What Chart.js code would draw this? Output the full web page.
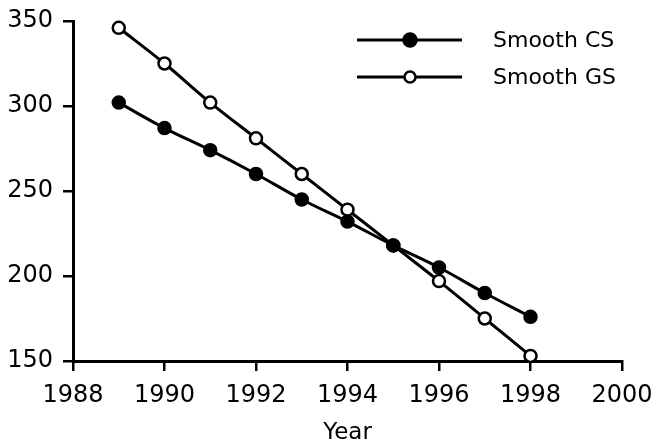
<!DOCTYPE html>
<html><head><meta charset="utf-8">
<script src="https://cdn.jsdelivr.net/npm/chart.js@4/dist/chart.umd.min.js"></script>
<style>html,body{margin:0;padding:0;background:#fff}#wrap{width:657px;height:445px}</style>
</head><body><div id="wrap"><canvas id="c" width="657" height="445"></canvas></div>
<script>
const years = [1989,1990,1991,1992,1993,1994,1995,1996,1997,1998];
const smoothCS = [302,287,274,260,245,232,218,205,190,176];
const smoothGS = [346,325,302,281,260,239,218,197,175,153];
const xTicks = [1988,1990,1992,1994,1996,1998,2000];
const yTicks = [150,200,250,300,350];
const seriesNames = ['Smooth CS','Smooth GS'];
const FONT = 'DejaVu Sans';

const legendPlugin = {
  id:'customLegend',
  afterDraw(chart){
    const ctx = chart.ctx;
    const rows = [{y:40, fill:'#000'},{y:77, fill:'#fff'}];
    ctx.save();
    rows.forEach((r,i)=>{
      ctx.strokeStyle='#000'; ctx.lineWidth=3;
      ctx.beginPath(); ctx.moveTo(357,r.y); ctx.lineTo(462,r.y); ctx.stroke();
      ctx.beginPath(); ctx.arc(410,r.y,i===0?6.5:5.5,0,Math.PI*2);
      ctx.fillStyle=r.fill; ctx.fill(); ctx.lineWidth=2.5; ctx.stroke();
      ctx.fillStyle='#000'; ctx.font='22px "'+FONT+'"'; ctx.textBaseline='middle'; ctx.textAlign='left';
      ctx.fillText(seriesNames[i],493,r.y+1);
    });
    ctx.restore();
  }
};

new Chart(document.getElementById('c'),{
  type:'line',
  data:{datasets:[
    {label:seriesNames[0],data:years.map((x,i)=>({x,y:smoothCS[i]})),borderColor:'#000',borderWidth:3,
     pointRadius:6.5,pointBackgroundColor:'#000',pointBorderColor:'#000',pointBorderWidth:1.5,tension:0.4,clip:false},
    {label:seriesNames[1],data:years.map((x,i)=>({x,y:smoothGS[i]})),borderColor:'#000',borderWidth:3,
     pointRadius:6,pointBackgroundColor:'#fff',pointBorderColor:'#000',pointBorderWidth:2.5,tension:0.4,clip:false}
  ]},
  options:{
    responsive:false,animation:false,
    layout:{padding:{left:0,right:35,top:21,bottom:0}},
    plugins:{legend:{display:false},tooltip:{enabled:false}},
    scales:{
      x:{type:'linear',min:1988,max:2000,
        afterBuildTicks(s){s.ticks=xTicks.map(v=>({value:v}));},
        afterFit(s){s.height=445-361;s.paddingLeft=0;s.paddingRight=0;},
        ticks:{color:'#000',font:{family:FONT,size:24},padding:10,maxRotation:0,callback:v=>String(v)},
        grid:{drawOnChartArea:false,drawTicks:true,tickLength:10,color:'#000',lineWidth:2.5},
        border:{display:true,color:'#000',width:3},
        title:{display:true,text:'Year',color:'#000',font:{family:FONT,size:23,lineHeight:1},padding:{top:0,bottom:0}}
      },
      y:{min:150,max:350,
        afterBuildTicks(s){s.ticks=yTicks.map(v=>({value:v}));},
        afterFit(s){s.width=73;s.paddingTop=0;s.paddingBottom=0;},
        ticks:{color:'#000',font:{family:FONT,size:24},padding:10},
        grid:{drawOnChartArea:false,drawTicks:true,tickLength:10,color:'#000',lineWidth:2.5},
        border:{display:true,color:'#000',width:3}
      }
    }
  },
  plugins:[legendPlugin]
});
</script></body></html>
